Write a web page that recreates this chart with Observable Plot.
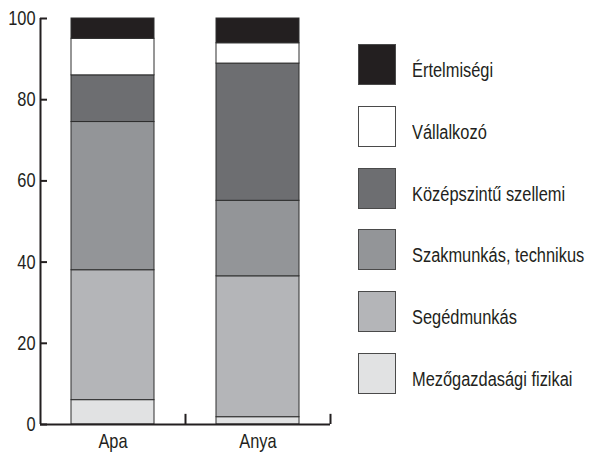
<!DOCTYPE html>
<html><head><meta charset="utf-8">
<script src="https://cdn.jsdelivr.net/npm/d3@7"></script>
<script src="https://cdn.jsdelivr.net/npm/@observablehq/plot@0.6"></script>
<style>
body{margin:0;background:#fff;font-family:"Liberation Sans",Arial,sans-serif;color:#231f20;}
#wrap{position:relative;width:589px;height:452px;overflow:hidden;}
#chart{position:absolute;left:0;top:0;}
#legend{position:absolute;left:358px;top:44px;}
.item{display:flex;align-items:center;height:41px;margin-bottom:20.8px;}
.sw{width:38px;height:41px;border:1.5px solid #4a4a4a;box-sizing:border-box;flex:none;}
.lbl{margin-left:16px;font-size:20px;white-space:nowrap;display:inline-block;transform:scaleX(0.82);transform-origin:left center;position:relative;top:6px;}
</style></head>
<body>
<div id="wrap"><div id="chart"></div><div id="legend"></div></div>
<script>
const groups = ["Apa", "Anya"];
const categories = ["Mezőgazdasági fizikai", "Segédmunkás", "Szakmunkás, technikus", "Középszintű szellemi", "Vállalkozó", "Értelmiségi"];
const apa = [6, 32, 36.5, 11.5, 9, 5];
const anya = [1.8, 34.7, 18.6, 33.8, 5, 6.1];
const colors = ["#e1e2e3", "#b4b5b8", "#939598", "#6d6e71", "#ffffff", "#231f20"];
const yTicks = [0, 20, 40, 60, 80, 100];

const data = groups.flatMap((g, gi) => categories.map((c, ci) => ({group: g, cat: c, value: (gi ? anya : apa)[ci]})));
const ink = "#231f20";
const chart = Plot.plot({
  width: 345, height: 452,
  marginTop: 18, marginBottom: 28, marginLeft: 40, marginRight: 15,
  style: {fontFamily: '"Liberation Sans",Arial,sans-serif', fontSize: "20px", color: ink, background: "transparent"},
  x: {domain: groups, paddingInner: 0.43, paddingOuter: 0.215, label: null},
  y: {domain: [0, 100], ticks: yTicks, label: null},
  color: {domain: categories, range: colors},
  marks: [
    Plot.barY(data, {x: "group", y: "value", fill: "cat", order: categories, stroke: "#2e2e2e", strokeWidth: 1}),
    Plot.ruleX(groups.slice(0, 1), {x: d => d, y1: 0, y2: 100, dx: -72.5, stroke: ink, strokeWidth: 2}),
    Plot.ruleY([0], {stroke: ink, strokeWidth: 2}),
    Plot.ruleY(yTicks, {insetRight: 283, stroke: ink, strokeWidth: 2}),
    Plot.ruleX(groups, {x: d => d, y1: 0, y2: 2.5, dx: 72.5, stroke: ink, strokeWidth: 2}),
    Plot.axisY({ticks: yTicks, tickSize: 0, tickPadding: 5, label: null}),
    Plot.axisX({tickSize: 0, tickPadding: 9, label: null})
  ]
});
// condensed look: narrow each text glyph run horizontally about its anchor
d3.select(chart).selectAll("text").each(function() {
  const t = this.getAttribute("transform");
  if (t) {
    this.setAttribute("transform", t + " scale(0.82,1)");
  } else {
    const x = +(this.getAttribute("x") || 0), y = +(this.getAttribute("y") || 0);
    this.removeAttribute("x"); this.removeAttribute("y");
    this.setAttribute("transform", `translate(${x},${y}) scale(0.82,1)`);
  }
});
document.getElementById("chart").appendChild(chart);

const legend = document.getElementById("legend");
[...categories].reverse().forEach(c => {
  const i = categories.indexOf(c);
  const item = document.createElement("div");
  item.className = "item";
  const sw = document.createElement("div");
  sw.className = "sw";
  sw.style.background = colors[i];
  const lbl = document.createElement("span");
  lbl.className = "lbl";
  lbl.textContent = c;
  item.appendChild(sw); item.appendChild(lbl);
  legend.appendChild(item);
});
</script>
</body></html>
